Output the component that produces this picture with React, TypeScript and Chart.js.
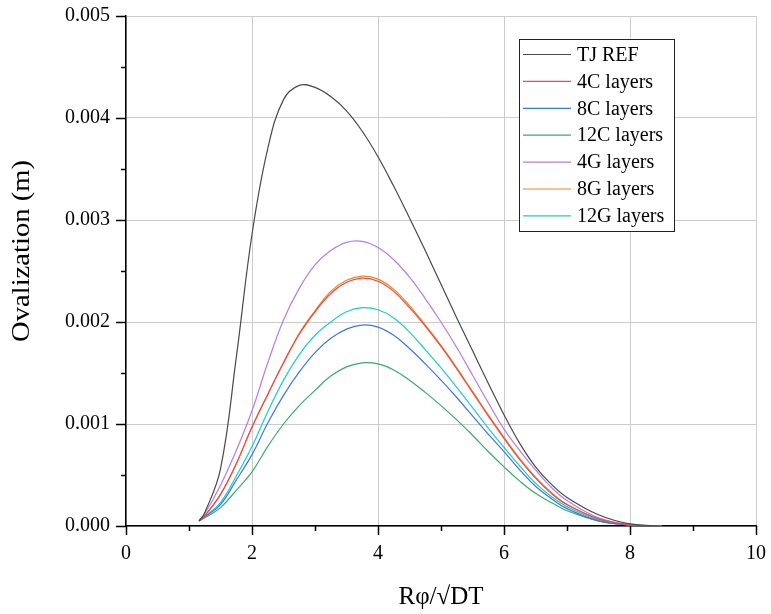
import { useEffect, useRef } from 'react';
import { Chart, registerables } from 'chart.js';

Chart.register(...registerables);

// x values (Rφ/√DT)
const xValues = [1.16, 1.25, 1.5, 1.75, 2.0, 2.25, 2.5, 2.75, 3.0, 3.25, 3.5, 3.75, 4.0, 4.25, 4.5, 4.75, 5.0, 5.25, 5.5, 5.75, 6.0, 6.25, 6.5, 6.75, 7.0, 7.5, 8.0, 8.5];

// Ovalization (m)
const tjRef = [0.00005, 0.00013, 0.00056, 0.00165, 0.00286, 0.0037, 0.00418, 0.00432, 0.0043, 0.00421, 0.00407, 0.00387, 0.00362, 0.00333, 0.00302, 0.0027, 0.00237, 0.00204, 0.00172, 0.0014, 0.00109, 0.00081, 0.00058, 0.00041, 0.00028, 0.00011, 0.00002, 0.0];
const c4 = [0.00005, 0.0001, 0.00031, 0.00061, 0.00097, 0.00129, 0.0016, 0.00188, 0.0021, 0.00228, 0.00239, 0.00243, 0.0024, 0.0023, 0.00214, 0.00196, 0.00176, 0.00154, 0.00131, 0.00108, 0.00086, 0.00065, 0.00047, 0.00032, 0.00021, 0.00007, 0.00001, 0.0];
const c8 = [0.00005, 0.00009, 0.00021, 0.00045, 0.0007, 0.00101, 0.00128, 0.00151, 0.0017, 0.00184, 0.00193, 0.00197, 0.00195, 0.00187, 0.00174, 0.00159, 0.00143, 0.00126, 0.00108, 0.0009, 0.00073, 0.00055, 0.00039, 0.00027, 0.00017, 0.00005, 0.00001, 0.0];
const c12 = [0.00005, 0.00008, 0.00018, 0.00035, 0.00053, 0.00078, 0.001, 0.00118, 0.00133, 0.00147, 0.00156, 0.0016, 0.00159, 0.00153, 0.00143, 0.00131, 0.00118, 0.00104, 0.00089, 0.00073, 0.00058, 0.00044, 0.00032, 0.00023, 0.00015, 0.00005, 0.00001, 0.0];
const g4 = [0.00005, 0.00012, 0.0004, 0.00074, 0.00113, 0.0016, 0.00202, 0.00233, 0.00256, 0.0027, 0.00278, 0.00279, 0.00273, 0.00261, 0.00244, 0.00223, 0.002, 0.00175, 0.00148, 0.00121, 0.00095, 0.00074, 0.00055, 0.00038, 0.00025, 0.00008, 0.000015, 0.0];
const g8 = [0.00005, 0.0001, 0.00031, 0.00061, 0.00097, 0.00129, 0.0016, 0.00189, 0.00211, 0.0023, 0.00241, 0.00245, 0.00242, 0.00232, 0.00216, 0.00197, 0.00177, 0.00155, 0.00132, 0.00109, 0.00087, 0.00066, 0.00048, 0.00033, 0.00021, 0.00007, 0.00001, 0.0];
const g12 = [0.00005, 0.00009, 0.00023, 0.00049, 0.00078, 0.00112, 0.00143, 0.00168, 0.00187, 0.002, 0.0021, 0.00214, 0.00212, 0.00204, 0.0019, 0.00173, 0.00155, 0.00136, 0.00116, 0.00096, 0.00077, 0.00059, 0.00042, 0.00029, 0.00019, 0.00006, 0.00001, 0.0];

const seriesNames = ['TJ REF', '4C layers', '8C layers', '12C layers', '4G layers', '8G layers', '12G layers'];
const seriesValues = [tjRef, c4, c8, c12, g4, g8, g12];
const seriesColors = ['#4a4a4a', '#ee4a4a', '#3a78e6', '#3caa6e', '#b47ee8', '#de8c1e', '#1ecccc'];

const yTitle = 'Ovalization (m)';

const FONT = '"Liberation Serif", "Times New Roman", serif';

const isMajorY = (v: number) => Math.abs(Math.round(v / 0.001) * 0.001 - v) < 1e-9;
const isMajorX = (v: number) => Math.abs(Math.round(v / 2) * 2 - v) < 1e-9;

const noScalePadding = (s: any) => {
  s.paddingTop = 0;
  s.paddingBottom = 0;
  s.paddingLeft = 0;
  s.paddingRight = 0;
};

const outerTicks = {
  id: 'outerTicks',
  afterDraw(chart: any) {
    const { ctx, chartArea, scales } = chart;
    const xs = scales.x;
    const ys = scales.y;
    ctx.save();
    ctx.strokeStyle = '#000';
    ctx.lineWidth = 1.5;
    xs.ticks.forEach((t: any) => {
      const px = Math.round(xs.getPixelForValue(t.value)) + 0.5;
      const len = isMajorX(t.value) ? 9 : 5;
      ctx.beginPath();
      ctx.moveTo(px, chartArea.bottom);
      ctx.lineTo(px, chartArea.bottom + len);
      ctx.stroke();
    });
    ys.ticks.forEach((t: any) => {
      const py = Math.round(ys.getPixelForValue(t.value)) + 0.5;
      const len = isMajorY(t.value) ? 10 : 5;
      ctx.beginPath();
      ctx.moveTo(chartArea.left, py);
      ctx.lineTo(chartArea.left - len, py);
      ctx.stroke();
    });
    // y axis title
    ctx.save();
    ctx.translate(22, chartArea.top + 235);
    ctx.rotate(-Math.PI / 2);
    ctx.scale(1.1, 1);
    ctx.font = `26px ${FONT}`;
    ctx.fillStyle = '#000';
    ctx.textAlign = 'center';
    ctx.textBaseline = 'middle';
    ctx.fillText(yTitle, 0, 0);
    ctx.restore();
    ctx.restore();
  },
};

const insideLegend = {
  id: 'insideLegend',
  afterDraw(chart: any) {
    const { ctx, chartArea } = chart;
    const boxLeft = chartArea.right - 237;
    const boxTop = chartArea.top + 23;
    const boxW = 155;
    const boxH = 192;
    const rowH = 26.9;
    ctx.save();
    ctx.fillStyle = '#fff';
    ctx.fillRect(boxLeft, boxTop, boxW, boxH);
    ctx.strokeStyle = '#222';
    ctx.lineWidth = 1;
    ctx.strokeRect(boxLeft + 0.5, boxTop + 0.5, boxW, boxH);
    ctx.font = `20px ${FONT}`;
    ctx.textBaseline = 'middle';
    ctx.textAlign = 'left';
    chart.data.datasets.forEach((ds: any, i: number) => {
      const y = boxTop + 15.5 + i * rowH;
      ctx.strokeStyle = ds.borderColor;
      ctx.lineWidth = 1.2;
      ctx.beginPath();
      ctx.moveTo(boxLeft + 4, y);
      ctx.lineTo(boxLeft + 52, y);
      ctx.stroke();
      ctx.fillStyle = '#000';
      ctx.fillText(ds.label, boxLeft + 58, y + 1);
    });
    ctx.restore();
  },
};

export default function App() {
  const canvasRef = useRef<HTMLCanvasElement | null>(null);

  useEffect(() => {
    if (!canvasRef.current) return;
    const datasets = seriesNames.map((name, i) => ({
      label: name,
      data: xValues.map((x, j) => ({ x, y: seriesValues[i][j] })),
      borderColor: seriesColors[i],
      backgroundColor: seriesColors[i],
      borderWidth: 1.2,
      pointRadius: 0,
      fill: false,
      tension: 0.4,
    }));

    const chart = new Chart(canvasRef.current, {
      type: 'line',
      data: { datasets },
      plugins: [outerTicks, insideLegend],
      options: {
        animation: false,
        responsive: true,
        maintainAspectRatio: false,
        layout: { padding: { left: 0, right: 15, top: 16, bottom: 0 } },
        plugins: {
          legend: { display: false },
          tooltip: { enabled: false },
        },
        scales: {
          x: {
            type: 'linear',
            min: 0,
            max: 10,
            afterFit: (s: any) => { s.height = 88; noScalePadding(s); },
            ticks: {
              stepSize: 1,
              autoSkip: false,
              maxRotation: 0,
              padding: 16,
              color: '#000',
              font: { family: FONT, size: 20 },
              callback: (v: any) => (isMajorX(Number(v)) ? String(v) : ''),
            },
            grid: {
              drawTicks: false,
              color: (c: any) => (c.tick && isMajorX(c.tick.value) ? '#cccccc' : 'rgba(0,0,0,0)'),
              lineWidth: 1,
            },
            border: { display: true, color: '#000', width: 1.5 },
            title: {
              display: true,
              text: 'Rφ/√DT',
              color: '#000',
              font: { family: FONT, size: 25 },
              padding: { top: 0, bottom: 2 },
            },
          },
          y: {
            type: 'linear',
            min: 0,
            max: 0.005,
            afterFit: (s: any) => { s.width = 126; noScalePadding(s); },
            ticks: {
              stepSize: 0.0005,
              autoSkip: false,
              padding: 16,
              color: '#000',
              font: { family: FONT, size: 20 },
              callback: (v: any) => (isMajorY(Number(v)) ? Number(v).toFixed(3) : ''),
            },
            grid: {
              drawTicks: false,
              color: (c: any) => (c.tick && isMajorY(c.tick.value) ? '#cccccc' : 'rgba(0,0,0,0)'),
              lineWidth: 1,
            },
            border: { display: true, color: '#000', width: 1.5 },
            title: { display: false },
          },
        },
      },
    });
    return () => chart.destroy();
  }, []);

  return (
    <div style={{ position: 'absolute', left: 0, top: 0, width: 771, height: 614, background: '#fff' }}>
      <canvas ref={canvasRef} />
    </div>
  );
}
